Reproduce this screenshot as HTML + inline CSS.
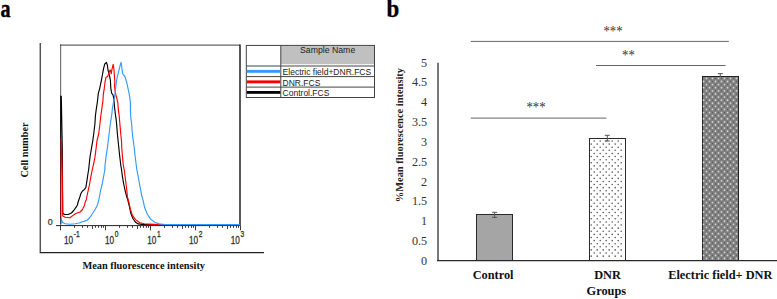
<!DOCTYPE html>
<html><head><meta charset="utf-8"><style>
html,body{margin:0;padding:0;background:#fff;width:777px;height:299px;overflow:hidden}
svg{display:block}
</style></head><body>
<svg width="777" height="299" viewBox="0 0 777 299">

<!-- panel a -->
<text transform="translate(0.4,16.6) scale(0.91,1.11)" font-family="'Liberation Serif', serif" font-weight="bold" font-size="22" fill="#000" stroke="#000" stroke-width="0.4">a</text>
<path d="M40.3,43 V251.9" fill="none" stroke="#555" stroke-width="1.5"/>
<path d="M39.6,252.6 H264" fill="none" stroke="#222" stroke-width="1.3"/>
<path d="M60.1,45.1 H240" fill="none" stroke="#666" stroke-width="1.3"/>
<path d="M240,44.6 V225.6" fill="none" stroke="#111" stroke-width="1.4"/>
<path d="M56,225.6 H240.5" fill="none" stroke="#222" stroke-width="1"/>
<g stroke="#3a3a3a" stroke-width="1"><line x1="60.50" y1="225.6" x2="60.50" y2="230.30"/><line x1="74.50" y1="225.6" x2="74.50" y2="227.80"/><line x1="82.50" y1="225.6" x2="82.50" y2="227.80"/><line x1="87.50" y1="225.6" x2="87.50" y2="227.80"/><line x1="92.50" y1="225.6" x2="92.50" y2="228.90"/><line x1="95.50" y1="225.6" x2="95.50" y2="227.80"/><line x1="98.50" y1="225.6" x2="98.50" y2="227.80"/><line x1="101.50" y1="225.6" x2="101.50" y2="227.80"/><line x1="103.50" y1="225.6" x2="103.50" y2="227.80"/><line x1="105.50" y1="225.6" x2="105.50" y2="230.30"/><line x1="119.50" y1="225.6" x2="119.50" y2="227.80"/><line x1="127.50" y1="225.6" x2="127.50" y2="227.80"/><line x1="132.50" y1="225.6" x2="132.50" y2="227.80"/><line x1="137.50" y1="225.6" x2="137.50" y2="228.90"/><line x1="140.50" y1="225.6" x2="140.50" y2="227.80"/><line x1="143.50" y1="225.6" x2="143.50" y2="227.80"/><line x1="146.50" y1="225.6" x2="146.50" y2="227.80"/><line x1="148.50" y1="225.6" x2="148.50" y2="227.80"/><line x1="150.50" y1="225.6" x2="150.50" y2="230.30"/><line x1="164.50" y1="225.6" x2="164.50" y2="227.80"/><line x1="172.50" y1="225.6" x2="172.50" y2="227.80"/><line x1="177.50" y1="225.6" x2="177.50" y2="227.80"/><line x1="182.50" y1="225.6" x2="182.50" y2="228.90"/><line x1="185.50" y1="225.6" x2="185.50" y2="227.80"/><line x1="188.50" y1="225.6" x2="188.50" y2="227.80"/><line x1="191.50" y1="225.6" x2="191.50" y2="227.80"/><line x1="193.50" y1="225.6" x2="193.50" y2="227.80"/><line x1="195.50" y1="225.6" x2="195.50" y2="230.30"/><line x1="209.50" y1="225.6" x2="209.50" y2="227.80"/><line x1="217.50" y1="225.6" x2="217.50" y2="227.80"/><line x1="222.50" y1="225.6" x2="222.50" y2="227.80"/><line x1="227.50" y1="225.6" x2="227.50" y2="228.90"/><line x1="230.50" y1="225.6" x2="230.50" y2="227.80"/><line x1="233.50" y1="225.6" x2="233.50" y2="227.80"/><line x1="236.50" y1="225.6" x2="236.50" y2="227.80"/><line x1="238.50" y1="225.6" x2="238.50" y2="227.80"/><line x1="240.50" y1="225.6" x2="240.50" y2="230.30"/></g>
<g font-family="'Liberation Sans', sans-serif" font-size="8.9" fill="#333" stroke="#333" stroke-width="0.25"><text transform="translate(64,243.8) scale(0.92,1.24)">10<tspan dx="0.75" dy="-5.3" font-size="7.2">-1</tspan></text><text transform="translate(105,243.8) scale(0.92,1.24)">10<tspan dx="0.75" dy="-5.3" font-size="7.2">0</tspan></text><text transform="translate(147.2,243.8) scale(0.92,1.24)">10<tspan dx="0.75" dy="-5.3" font-size="7.2">1</tspan></text><text transform="translate(189,243.8) scale(0.92,1.24)">10<tspan dx="0.75" dy="-5.3" font-size="7.2">2</tspan></text><text transform="translate(230.8,243.8) scale(0.92,1.24)">10<tspan dx="0.75" dy="-5.3" font-size="7.2">3</tspan></text>
<text x="47.8" y="225.3">0</text></g>
<text transform="translate(28.3,177.6) rotate(-90) scale(1,1.1)" font-family="'Liberation Serif', serif" font-weight="bold" font-size="10.3" fill="#111">Cell number</text>
<text transform="translate(82.4,269.4) scale(1,1.1)" font-family="'Liberation Serif', serif" font-weight="bold" font-size="10.35" fill="#111">Mean fluorescence intensity</text>
<g fill="none" stroke-width="1.15" stroke-linejoin="round">
<polyline points="60.60,224.00 60.60,96.00 61.30,96.50 62.30,150.00 62.70,213.00 64.40,214.50 68.10,214.50 71.40,213.00 73.70,210.50 76.10,207.20 77.40,205.00 78.10,202.00 80.00,196.50 80.90,193.50 82.30,191.20 84.50,189.40 85.90,187.20 86.80,181.70 87.70,175.40 88.60,170.00 90.00,157.00 91.70,147.00 92.80,140.70 93.70,134.00 94.90,124.00 95.40,116.00 96.25,109.30 97.50,101.00 98.30,93.40 99.60,88.80 100.80,83.00 101.20,81.30 102.40,74.80 103.60,68.40 104.80,64.00 106.40,62.40 107.40,65.20 108.00,70.00 108.80,73.20 109.60,76.40 110.40,80.50 110.80,88.00 111.70,93.40 112.90,94.70 113.75,98.00 114.60,107.70 115.40,114.30 116.25,120.20 116.60,124.00 117.40,134.00 118.25,142.30 118.75,147.00 119.60,155.30 120.80,165.30 121.60,170.00 122.50,177.20 123.80,184.50 125.20,190.80 126.50,196.00 127.60,199.30 129.20,205.70 130.80,213.20 132.90,218.50 135.60,222.30 138.30,223.90 142.00,224.40 150.00,224.60 240.00,224.60" stroke="#000"/>
<polyline points="60.60,224.00 60.60,139.00 61.30,139.50 62.30,175.00 62.70,216.00 65.30,217.30 70.00,217.80 72.40,215.90 75.40,213.70 78.00,212.70 80.00,212.00 82.10,210.00 82.80,208.70 84.30,205.70 85.50,201.40 86.40,199.50 86.80,197.00 88.10,190.80 89.50,184.50 90.80,177.20 92.20,170.00 93.30,165.30 95.00,157.00 96.25,147.00 97.00,140.70 98.70,134.00 99.90,124.00 100.80,116.00 101.70,109.30 102.90,101.00 103.30,94.70 104.20,88.80 105.00,82.20 105.20,81.30 106.00,77.20 107.60,76.40 108.80,73.60 109.60,70.80 110.40,70.00 111.20,74.00 112.00,69.20 113.20,64.40 114.00,70.00 114.40,75.60 114.80,81.30 114.60,86.30 115.00,90.50 115.80,94.70 117.10,99.70 117.90,103.00 118.30,109.30 119.20,116.00 119.90,124.00 120.75,134.00 121.60,142.30 121.70,147.00 122.50,157.00 123.30,165.30 124.30,170.00 125.20,177.20 126.10,184.50 127.00,191.70 127.40,197.00 128.70,201.40 130.30,208.90 132.40,215.30 135.60,219.60 139.90,222.80 144.20,223.70 149.50,224.10 154.90,224.40 160.00,224.60 240.00,224.60" stroke="#ff0000"/>
<polyline points="60.60,224.00 60.60,218.20 61.00,219.00 62.50,222.40 65.30,223.80 70.00,224.30 75.40,223.70 80.00,222.70 82.10,221.80 84.10,221.40 87.40,220.00 89.40,218.00 91.40,215.30 93.40,212.00 94.80,210.00 97.10,205.70 98.70,200.30 99.80,195.00 100.30,191.70 102.10,184.50 103.50,177.20 104.80,170.00 105.00,165.30 106.25,155.30 107.50,147.00 108.25,140.70 109.10,134.00 110.30,124.00 111.70,115.20 112.50,107.70 113.75,101.00 114.60,97.20 115.40,90.50 116.25,83.00 116.40,81.30 117.60,75.60 118.80,70.80 120.00,66.00 121.00,62.40 121.70,66.00 122.00,70.00 122.90,74.00 123.70,75.20 124.50,76.00 125.30,77.60 126.10,80.50 126.70,82.20 127.90,88.00 129.20,93.80 130.00,98.80 130.40,103.00 130.40,109.30 130.80,117.70 131.60,124.00 132.40,134.00 133.50,142.30 134.20,147.00 135.00,155.30 136.25,165.30 136.90,170.00 138.30,177.20 139.60,184.50 141.00,191.70 141.50,195.00 143.10,200.30 144.70,207.80 147.40,214.30 150.60,219.10 154.90,222.30 159.10,223.90 165.00,224.50 240.00,224.60" stroke="#3399ff"/>
</g>
<path d="M60.6,225.6 V44.6" fill="none" stroke="#222" stroke-opacity="0.62" stroke-width="1.2"/>
<!-- legend -->
<rect x="280.8" y="45.6" width="93.7" height="18.6" fill="#c0c0c0"/>
<g fill="none" stroke="#444" stroke-width="1">
<rect x="246.3" y="45.4" width="128.2" height="52.1"/>
<line x1="280.8" y1="45.4" x2="280.8" y2="97.5"/>
<line x1="246.3" y1="66" x2="374.5" y2="66"/>
<line x1="246.3" y1="76.6" x2="374.5" y2="76.6"/>
<line x1="246.3" y1="87.1" x2="374.5" y2="87.1"/>
</g>
<rect x="246.8" y="69.9" width="33.5" height="2.9" fill="#3399ff"/>
<rect x="246.8" y="80.4" width="33.5" height="2.9" fill="#ff0000"/>
<rect x="246.8" y="91" width="33.5" height="2.8" fill="#000"/>
<g font-family="'Liberation Sans', sans-serif" font-size="8.6" fill="#222">
<text transform="translate(327.6,52.9) scale(1.015,1.09)" text-anchor="middle">Sample Name</text>
<text transform="translate(282.6,74.5) scale(0.99,1.09)">Electric field+DNR.FCS</text>
<text transform="translate(282.6,85.7) scale(0.99,1.09)">DNR.FCS</text>
<text transform="translate(282.6,96.2) scale(0.99,1.09)">Control.FCS</text>
</g>
<!-- panel b -->
<text transform="translate(386.5,17) scale(1.04,1.115)" font-family="'Liberation Serif', serif" font-weight="bold" font-size="22" fill="#000" stroke="#000" stroke-width="0.3">b</text>
<g stroke="#666" stroke-width="1" fill="none">
<line x1="470.8" y1="41.4" x2="728.8" y2="41.4"/>
<line x1="596" y1="65.5" x2="725.5" y2="65.5"/>
<line x1="470.7" y1="118.1" x2="606.3" y2="118.1"/>
</g>
<g font-family="'Liberation Serif', serif" font-size="12.8" fill="#333" text-anchor="middle">
<text transform="translate(613,36.05) scale(1,1.1)">***</text>
<text transform="translate(628.4,59.65) scale(1,1.1)">**</text>
<text transform="translate(536,111.75) scale(1,1.1)">***</text>
</g>
<line x1="438" y1="62.8" x2="438" y2="260.4" stroke="#787878" stroke-width="2"/>
<g font-family="'Liberation Serif', serif" font-size="12.2" fill="#333"><text transform="translate(427.2,264.75) scale(1,1.06)" text-anchor="end">0</text><text transform="translate(427.2,244.94) scale(1,1.06)" text-anchor="end">0.5</text><text transform="translate(427.2,225.13) scale(1,1.06)" text-anchor="end">1</text><text transform="translate(427.2,205.32) scale(1,1.06)" text-anchor="end">1.5</text><text transform="translate(427.2,185.51) scale(1,1.06)" text-anchor="end">2</text><text transform="translate(427.2,165.70) scale(1,1.06)" text-anchor="end">2.5</text><text transform="translate(427.2,145.89) scale(1,1.06)" text-anchor="end">3</text><text transform="translate(427.2,126.08) scale(1,1.06)" text-anchor="end">3.5</text><text transform="translate(427.2,106.27) scale(1,1.06)" text-anchor="end">4</text><text transform="translate(427.2,86.46) scale(1,1.06)" text-anchor="end">4.5</text><text transform="translate(427.2,66.65) scale(1,1.06)" text-anchor="end">5</text></g>
<text transform="translate(403.2,202.3) rotate(-90) scale(1,1.02)" font-family="'Liberation Serif', serif" font-weight="bold" font-size="10.45" fill="#222">%Mean fluorescence intensity</text>
<rect x="476.5" y="214.5" width="36" height="46" fill="#a5a5a5" stroke="#2a2a2a" stroke-width="1"/>
<rect x="589.5" y="138.5" width="36" height="122" fill="#fff" stroke="#2a2a2a" stroke-width="1"/>
<rect x="702.5" y="76.5" width="36" height="184" fill="#808080" stroke="#222" stroke-width="1"/>
<g fill="#5a5a5a"><circle cx="594.20" cy="141.00" r="0.8"/><circle cx="600.20" cy="141.00" r="0.8"/><circle cx="606.20" cy="141.00" r="0.8"/><circle cx="612.20" cy="141.00" r="0.8"/><circle cx="618.20" cy="141.00" r="0.8"/><circle cx="591.20" cy="144.10" r="0.8"/><circle cx="597.20" cy="144.10" r="0.8"/><circle cx="603.20" cy="144.10" r="0.8"/><circle cx="609.20" cy="144.10" r="0.8"/><circle cx="615.20" cy="144.10" r="0.8"/><circle cx="621.20" cy="144.10" r="0.8"/><circle cx="594.20" cy="147.22" r="0.8"/><circle cx="600.20" cy="147.22" r="0.8"/><circle cx="606.20" cy="147.22" r="0.8"/><circle cx="612.20" cy="147.22" r="0.8"/><circle cx="618.20" cy="147.22" r="0.8"/><circle cx="591.20" cy="150.32" r="0.8"/><circle cx="597.20" cy="150.32" r="0.8"/><circle cx="603.20" cy="150.32" r="0.8"/><circle cx="609.20" cy="150.32" r="0.8"/><circle cx="615.20" cy="150.32" r="0.8"/><circle cx="621.20" cy="150.32" r="0.8"/><circle cx="594.20" cy="153.45" r="0.8"/><circle cx="600.20" cy="153.45" r="0.8"/><circle cx="606.20" cy="153.45" r="0.8"/><circle cx="612.20" cy="153.45" r="0.8"/><circle cx="618.20" cy="153.45" r="0.8"/><circle cx="591.20" cy="156.55" r="0.8"/><circle cx="597.20" cy="156.55" r="0.8"/><circle cx="603.20" cy="156.55" r="0.8"/><circle cx="609.20" cy="156.55" r="0.8"/><circle cx="615.20" cy="156.55" r="0.8"/><circle cx="621.20" cy="156.55" r="0.8"/><circle cx="594.20" cy="159.68" r="0.8"/><circle cx="600.20" cy="159.68" r="0.8"/><circle cx="606.20" cy="159.68" r="0.8"/><circle cx="612.20" cy="159.68" r="0.8"/><circle cx="618.20" cy="159.68" r="0.8"/><circle cx="591.20" cy="162.77" r="0.8"/><circle cx="597.20" cy="162.77" r="0.8"/><circle cx="603.20" cy="162.77" r="0.8"/><circle cx="609.20" cy="162.77" r="0.8"/><circle cx="615.20" cy="162.77" r="0.8"/><circle cx="621.20" cy="162.77" r="0.8"/><circle cx="594.20" cy="165.90" r="0.8"/><circle cx="600.20" cy="165.90" r="0.8"/><circle cx="606.20" cy="165.90" r="0.8"/><circle cx="612.20" cy="165.90" r="0.8"/><circle cx="618.20" cy="165.90" r="0.8"/><circle cx="591.20" cy="169.00" r="0.8"/><circle cx="597.20" cy="169.00" r="0.8"/><circle cx="603.20" cy="169.00" r="0.8"/><circle cx="609.20" cy="169.00" r="0.8"/><circle cx="615.20" cy="169.00" r="0.8"/><circle cx="621.20" cy="169.00" r="0.8"/><circle cx="594.20" cy="172.12" r="0.8"/><circle cx="600.20" cy="172.12" r="0.8"/><circle cx="606.20" cy="172.12" r="0.8"/><circle cx="612.20" cy="172.12" r="0.8"/><circle cx="618.20" cy="172.12" r="0.8"/><circle cx="591.20" cy="175.22" r="0.8"/><circle cx="597.20" cy="175.22" r="0.8"/><circle cx="603.20" cy="175.22" r="0.8"/><circle cx="609.20" cy="175.22" r="0.8"/><circle cx="615.20" cy="175.22" r="0.8"/><circle cx="621.20" cy="175.22" r="0.8"/><circle cx="594.20" cy="178.35" r="0.8"/><circle cx="600.20" cy="178.35" r="0.8"/><circle cx="606.20" cy="178.35" r="0.8"/><circle cx="612.20" cy="178.35" r="0.8"/><circle cx="618.20" cy="178.35" r="0.8"/><circle cx="591.20" cy="181.45" r="0.8"/><circle cx="597.20" cy="181.45" r="0.8"/><circle cx="603.20" cy="181.45" r="0.8"/><circle cx="609.20" cy="181.45" r="0.8"/><circle cx="615.20" cy="181.45" r="0.8"/><circle cx="621.20" cy="181.45" r="0.8"/><circle cx="594.20" cy="184.57" r="0.8"/><circle cx="600.20" cy="184.57" r="0.8"/><circle cx="606.20" cy="184.57" r="0.8"/><circle cx="612.20" cy="184.57" r="0.8"/><circle cx="618.20" cy="184.57" r="0.8"/><circle cx="591.20" cy="187.67" r="0.8"/><circle cx="597.20" cy="187.67" r="0.8"/><circle cx="603.20" cy="187.67" r="0.8"/><circle cx="609.20" cy="187.67" r="0.8"/><circle cx="615.20" cy="187.67" r="0.8"/><circle cx="621.20" cy="187.67" r="0.8"/><circle cx="594.20" cy="190.80" r="0.8"/><circle cx="600.20" cy="190.80" r="0.8"/><circle cx="606.20" cy="190.80" r="0.8"/><circle cx="612.20" cy="190.80" r="0.8"/><circle cx="618.20" cy="190.80" r="0.8"/><circle cx="591.20" cy="193.90" r="0.8"/><circle cx="597.20" cy="193.90" r="0.8"/><circle cx="603.20" cy="193.90" r="0.8"/><circle cx="609.20" cy="193.90" r="0.8"/><circle cx="615.20" cy="193.90" r="0.8"/><circle cx="621.20" cy="193.90" r="0.8"/><circle cx="594.20" cy="197.03" r="0.8"/><circle cx="600.20" cy="197.03" r="0.8"/><circle cx="606.20" cy="197.03" r="0.8"/><circle cx="612.20" cy="197.03" r="0.8"/><circle cx="618.20" cy="197.03" r="0.8"/><circle cx="591.20" cy="200.12" r="0.8"/><circle cx="597.20" cy="200.12" r="0.8"/><circle cx="603.20" cy="200.12" r="0.8"/><circle cx="609.20" cy="200.12" r="0.8"/><circle cx="615.20" cy="200.12" r="0.8"/><circle cx="621.20" cy="200.12" r="0.8"/><circle cx="594.20" cy="203.25" r="0.8"/><circle cx="600.20" cy="203.25" r="0.8"/><circle cx="606.20" cy="203.25" r="0.8"/><circle cx="612.20" cy="203.25" r="0.8"/><circle cx="618.20" cy="203.25" r="0.8"/><circle cx="591.20" cy="206.35" r="0.8"/><circle cx="597.20" cy="206.35" r="0.8"/><circle cx="603.20" cy="206.35" r="0.8"/><circle cx="609.20" cy="206.35" r="0.8"/><circle cx="615.20" cy="206.35" r="0.8"/><circle cx="621.20" cy="206.35" r="0.8"/><circle cx="594.20" cy="209.47" r="0.8"/><circle cx="600.20" cy="209.47" r="0.8"/><circle cx="606.20" cy="209.47" r="0.8"/><circle cx="612.20" cy="209.47" r="0.8"/><circle cx="618.20" cy="209.47" r="0.8"/><circle cx="591.20" cy="212.57" r="0.8"/><circle cx="597.20" cy="212.57" r="0.8"/><circle cx="603.20" cy="212.57" r="0.8"/><circle cx="609.20" cy="212.57" r="0.8"/><circle cx="615.20" cy="212.57" r="0.8"/><circle cx="621.20" cy="212.57" r="0.8"/><circle cx="594.20" cy="215.70" r="0.8"/><circle cx="600.20" cy="215.70" r="0.8"/><circle cx="606.20" cy="215.70" r="0.8"/><circle cx="612.20" cy="215.70" r="0.8"/><circle cx="618.20" cy="215.70" r="0.8"/><circle cx="591.20" cy="218.80" r="0.8"/><circle cx="597.20" cy="218.80" r="0.8"/><circle cx="603.20" cy="218.80" r="0.8"/><circle cx="609.20" cy="218.80" r="0.8"/><circle cx="615.20" cy="218.80" r="0.8"/><circle cx="621.20" cy="218.80" r="0.8"/><circle cx="594.20" cy="221.93" r="0.8"/><circle cx="600.20" cy="221.93" r="0.8"/><circle cx="606.20" cy="221.93" r="0.8"/><circle cx="612.20" cy="221.93" r="0.8"/><circle cx="618.20" cy="221.93" r="0.8"/><circle cx="591.20" cy="225.02" r="0.8"/><circle cx="597.20" cy="225.02" r="0.8"/><circle cx="603.20" cy="225.02" r="0.8"/><circle cx="609.20" cy="225.02" r="0.8"/><circle cx="615.20" cy="225.02" r="0.8"/><circle cx="621.20" cy="225.02" r="0.8"/><circle cx="594.20" cy="228.15" r="0.8"/><circle cx="600.20" cy="228.15" r="0.8"/><circle cx="606.20" cy="228.15" r="0.8"/><circle cx="612.20" cy="228.15" r="0.8"/><circle cx="618.20" cy="228.15" r="0.8"/><circle cx="591.20" cy="231.25" r="0.8"/><circle cx="597.20" cy="231.25" r="0.8"/><circle cx="603.20" cy="231.25" r="0.8"/><circle cx="609.20" cy="231.25" r="0.8"/><circle cx="615.20" cy="231.25" r="0.8"/><circle cx="621.20" cy="231.25" r="0.8"/><circle cx="594.20" cy="234.38" r="0.8"/><circle cx="600.20" cy="234.38" r="0.8"/><circle cx="606.20" cy="234.38" r="0.8"/><circle cx="612.20" cy="234.38" r="0.8"/><circle cx="618.20" cy="234.38" r="0.8"/><circle cx="591.20" cy="237.47" r="0.8"/><circle cx="597.20" cy="237.47" r="0.8"/><circle cx="603.20" cy="237.47" r="0.8"/><circle cx="609.20" cy="237.47" r="0.8"/><circle cx="615.20" cy="237.47" r="0.8"/><circle cx="621.20" cy="237.47" r="0.8"/><circle cx="594.20" cy="240.60" r="0.8"/><circle cx="600.20" cy="240.60" r="0.8"/><circle cx="606.20" cy="240.60" r="0.8"/><circle cx="612.20" cy="240.60" r="0.8"/><circle cx="618.20" cy="240.60" r="0.8"/><circle cx="591.20" cy="243.70" r="0.8"/><circle cx="597.20" cy="243.70" r="0.8"/><circle cx="603.20" cy="243.70" r="0.8"/><circle cx="609.20" cy="243.70" r="0.8"/><circle cx="615.20" cy="243.70" r="0.8"/><circle cx="621.20" cy="243.70" r="0.8"/><circle cx="594.20" cy="246.82" r="0.8"/><circle cx="600.20" cy="246.82" r="0.8"/><circle cx="606.20" cy="246.82" r="0.8"/><circle cx="612.20" cy="246.82" r="0.8"/><circle cx="618.20" cy="246.82" r="0.8"/><circle cx="591.20" cy="249.92" r="0.8"/><circle cx="597.20" cy="249.92" r="0.8"/><circle cx="603.20" cy="249.92" r="0.8"/><circle cx="609.20" cy="249.92" r="0.8"/><circle cx="615.20" cy="249.92" r="0.8"/><circle cx="621.20" cy="249.92" r="0.8"/><circle cx="594.20" cy="253.05" r="0.8"/><circle cx="600.20" cy="253.05" r="0.8"/><circle cx="606.20" cy="253.05" r="0.8"/><circle cx="612.20" cy="253.05" r="0.8"/><circle cx="618.20" cy="253.05" r="0.8"/><circle cx="591.20" cy="256.15" r="0.8"/><circle cx="597.20" cy="256.15" r="0.8"/><circle cx="603.20" cy="256.15" r="0.8"/><circle cx="609.20" cy="256.15" r="0.8"/><circle cx="615.20" cy="256.15" r="0.8"/><circle cx="621.20" cy="256.15" r="0.8"/></g>
<g fill="#d4d4d4"><circle cx="703.50" cy="81.51" r="0.9"/><circle cx="706.50" cy="78.41" r="0.9"/><circle cx="709.50" cy="81.51" r="0.9"/><circle cx="712.50" cy="78.41" r="0.9"/><circle cx="715.50" cy="81.51" r="0.9"/><circle cx="718.50" cy="78.41" r="0.9"/><circle cx="721.50" cy="81.51" r="0.9"/><circle cx="724.50" cy="78.41" r="0.9"/><circle cx="727.50" cy="81.51" r="0.9"/><circle cx="730.50" cy="78.41" r="0.9"/><circle cx="733.50" cy="81.51" r="0.9"/><circle cx="736.50" cy="78.41" r="0.9"/><circle cx="703.50" cy="87.72" r="0.9"/><circle cx="706.50" cy="84.62" r="0.9"/><circle cx="709.50" cy="87.72" r="0.9"/><circle cx="712.50" cy="84.62" r="0.9"/><circle cx="715.50" cy="87.72" r="0.9"/><circle cx="718.50" cy="84.62" r="0.9"/><circle cx="721.50" cy="87.72" r="0.9"/><circle cx="724.50" cy="84.62" r="0.9"/><circle cx="727.50" cy="87.72" r="0.9"/><circle cx="730.50" cy="84.62" r="0.9"/><circle cx="733.50" cy="87.72" r="0.9"/><circle cx="736.50" cy="84.62" r="0.9"/><circle cx="703.50" cy="93.93" r="0.9"/><circle cx="706.50" cy="90.83" r="0.9"/><circle cx="709.50" cy="93.93" r="0.9"/><circle cx="712.50" cy="90.83" r="0.9"/><circle cx="715.50" cy="93.93" r="0.9"/><circle cx="718.50" cy="90.83" r="0.9"/><circle cx="721.50" cy="93.93" r="0.9"/><circle cx="724.50" cy="90.83" r="0.9"/><circle cx="727.50" cy="93.93" r="0.9"/><circle cx="730.50" cy="90.83" r="0.9"/><circle cx="733.50" cy="93.93" r="0.9"/><circle cx="736.50" cy="90.83" r="0.9"/><circle cx="703.50" cy="100.14" r="0.9"/><circle cx="706.50" cy="97.04" r="0.9"/><circle cx="709.50" cy="100.14" r="0.9"/><circle cx="712.50" cy="97.04" r="0.9"/><circle cx="715.50" cy="100.14" r="0.9"/><circle cx="718.50" cy="97.04" r="0.9"/><circle cx="721.50" cy="100.14" r="0.9"/><circle cx="724.50" cy="97.04" r="0.9"/><circle cx="727.50" cy="100.14" r="0.9"/><circle cx="730.50" cy="97.04" r="0.9"/><circle cx="733.50" cy="100.14" r="0.9"/><circle cx="736.50" cy="97.04" r="0.9"/><circle cx="703.50" cy="106.35" r="0.9"/><circle cx="706.50" cy="103.25" r="0.9"/><circle cx="709.50" cy="106.35" r="0.9"/><circle cx="712.50" cy="103.25" r="0.9"/><circle cx="715.50" cy="106.35" r="0.9"/><circle cx="718.50" cy="103.25" r="0.9"/><circle cx="721.50" cy="106.35" r="0.9"/><circle cx="724.50" cy="103.25" r="0.9"/><circle cx="727.50" cy="106.35" r="0.9"/><circle cx="730.50" cy="103.25" r="0.9"/><circle cx="733.50" cy="106.35" r="0.9"/><circle cx="736.50" cy="103.25" r="0.9"/><circle cx="703.50" cy="112.56" r="0.9"/><circle cx="706.50" cy="109.46" r="0.9"/><circle cx="709.50" cy="112.56" r="0.9"/><circle cx="712.50" cy="109.46" r="0.9"/><circle cx="715.50" cy="112.56" r="0.9"/><circle cx="718.50" cy="109.46" r="0.9"/><circle cx="721.50" cy="112.56" r="0.9"/><circle cx="724.50" cy="109.46" r="0.9"/><circle cx="727.50" cy="112.56" r="0.9"/><circle cx="730.50" cy="109.46" r="0.9"/><circle cx="733.50" cy="112.56" r="0.9"/><circle cx="736.50" cy="109.46" r="0.9"/><circle cx="703.50" cy="118.77" r="0.9"/><circle cx="706.50" cy="115.67" r="0.9"/><circle cx="709.50" cy="118.77" r="0.9"/><circle cx="712.50" cy="115.67" r="0.9"/><circle cx="715.50" cy="118.77" r="0.9"/><circle cx="718.50" cy="115.67" r="0.9"/><circle cx="721.50" cy="118.77" r="0.9"/><circle cx="724.50" cy="115.67" r="0.9"/><circle cx="727.50" cy="118.77" r="0.9"/><circle cx="730.50" cy="115.67" r="0.9"/><circle cx="733.50" cy="118.77" r="0.9"/><circle cx="736.50" cy="115.67" r="0.9"/><circle cx="703.50" cy="124.98" r="0.9"/><circle cx="706.50" cy="121.88" r="0.9"/><circle cx="709.50" cy="124.98" r="0.9"/><circle cx="712.50" cy="121.88" r="0.9"/><circle cx="715.50" cy="124.98" r="0.9"/><circle cx="718.50" cy="121.88" r="0.9"/><circle cx="721.50" cy="124.98" r="0.9"/><circle cx="724.50" cy="121.88" r="0.9"/><circle cx="727.50" cy="124.98" r="0.9"/><circle cx="730.50" cy="121.88" r="0.9"/><circle cx="733.50" cy="124.98" r="0.9"/><circle cx="736.50" cy="121.88" r="0.9"/><circle cx="703.50" cy="131.19" r="0.9"/><circle cx="706.50" cy="128.09" r="0.9"/><circle cx="709.50" cy="131.19" r="0.9"/><circle cx="712.50" cy="128.09" r="0.9"/><circle cx="715.50" cy="131.19" r="0.9"/><circle cx="718.50" cy="128.09" r="0.9"/><circle cx="721.50" cy="131.19" r="0.9"/><circle cx="724.50" cy="128.09" r="0.9"/><circle cx="727.50" cy="131.19" r="0.9"/><circle cx="730.50" cy="128.09" r="0.9"/><circle cx="733.50" cy="131.19" r="0.9"/><circle cx="736.50" cy="128.09" r="0.9"/><circle cx="703.50" cy="137.40" r="0.9"/><circle cx="706.50" cy="134.30" r="0.9"/><circle cx="709.50" cy="137.40" r="0.9"/><circle cx="712.50" cy="134.30" r="0.9"/><circle cx="715.50" cy="137.40" r="0.9"/><circle cx="718.50" cy="134.30" r="0.9"/><circle cx="721.50" cy="137.40" r="0.9"/><circle cx="724.50" cy="134.30" r="0.9"/><circle cx="727.50" cy="137.40" r="0.9"/><circle cx="730.50" cy="134.30" r="0.9"/><circle cx="733.50" cy="137.40" r="0.9"/><circle cx="736.50" cy="134.30" r="0.9"/><circle cx="703.50" cy="143.61" r="0.9"/><circle cx="706.50" cy="140.51" r="0.9"/><circle cx="709.50" cy="143.61" r="0.9"/><circle cx="712.50" cy="140.51" r="0.9"/><circle cx="715.50" cy="143.61" r="0.9"/><circle cx="718.50" cy="140.51" r="0.9"/><circle cx="721.50" cy="143.61" r="0.9"/><circle cx="724.50" cy="140.51" r="0.9"/><circle cx="727.50" cy="143.61" r="0.9"/><circle cx="730.50" cy="140.51" r="0.9"/><circle cx="733.50" cy="143.61" r="0.9"/><circle cx="736.50" cy="140.51" r="0.9"/><circle cx="703.50" cy="149.82" r="0.9"/><circle cx="706.50" cy="146.72" r="0.9"/><circle cx="709.50" cy="149.82" r="0.9"/><circle cx="712.50" cy="146.72" r="0.9"/><circle cx="715.50" cy="149.82" r="0.9"/><circle cx="718.50" cy="146.72" r="0.9"/><circle cx="721.50" cy="149.82" r="0.9"/><circle cx="724.50" cy="146.72" r="0.9"/><circle cx="727.50" cy="149.82" r="0.9"/><circle cx="730.50" cy="146.72" r="0.9"/><circle cx="733.50" cy="149.82" r="0.9"/><circle cx="736.50" cy="146.72" r="0.9"/><circle cx="703.50" cy="156.03" r="0.9"/><circle cx="706.50" cy="152.93" r="0.9"/><circle cx="709.50" cy="156.03" r="0.9"/><circle cx="712.50" cy="152.93" r="0.9"/><circle cx="715.50" cy="156.03" r="0.9"/><circle cx="718.50" cy="152.93" r="0.9"/><circle cx="721.50" cy="156.03" r="0.9"/><circle cx="724.50" cy="152.93" r="0.9"/><circle cx="727.50" cy="156.03" r="0.9"/><circle cx="730.50" cy="152.93" r="0.9"/><circle cx="733.50" cy="156.03" r="0.9"/><circle cx="736.50" cy="152.93" r="0.9"/><circle cx="703.50" cy="162.24" r="0.9"/><circle cx="706.50" cy="159.14" r="0.9"/><circle cx="709.50" cy="162.24" r="0.9"/><circle cx="712.50" cy="159.14" r="0.9"/><circle cx="715.50" cy="162.24" r="0.9"/><circle cx="718.50" cy="159.14" r="0.9"/><circle cx="721.50" cy="162.24" r="0.9"/><circle cx="724.50" cy="159.14" r="0.9"/><circle cx="727.50" cy="162.24" r="0.9"/><circle cx="730.50" cy="159.14" r="0.9"/><circle cx="733.50" cy="162.24" r="0.9"/><circle cx="736.50" cy="159.14" r="0.9"/><circle cx="703.50" cy="168.45" r="0.9"/><circle cx="706.50" cy="165.35" r="0.9"/><circle cx="709.50" cy="168.45" r="0.9"/><circle cx="712.50" cy="165.35" r="0.9"/><circle cx="715.50" cy="168.45" r="0.9"/><circle cx="718.50" cy="165.35" r="0.9"/><circle cx="721.50" cy="168.45" r="0.9"/><circle cx="724.50" cy="165.35" r="0.9"/><circle cx="727.50" cy="168.45" r="0.9"/><circle cx="730.50" cy="165.35" r="0.9"/><circle cx="733.50" cy="168.45" r="0.9"/><circle cx="736.50" cy="165.35" r="0.9"/><circle cx="703.50" cy="174.66" r="0.9"/><circle cx="706.50" cy="171.56" r="0.9"/><circle cx="709.50" cy="174.66" r="0.9"/><circle cx="712.50" cy="171.56" r="0.9"/><circle cx="715.50" cy="174.66" r="0.9"/><circle cx="718.50" cy="171.56" r="0.9"/><circle cx="721.50" cy="174.66" r="0.9"/><circle cx="724.50" cy="171.56" r="0.9"/><circle cx="727.50" cy="174.66" r="0.9"/><circle cx="730.50" cy="171.56" r="0.9"/><circle cx="733.50" cy="174.66" r="0.9"/><circle cx="736.50" cy="171.56" r="0.9"/><circle cx="703.50" cy="180.87" r="0.9"/><circle cx="706.50" cy="177.77" r="0.9"/><circle cx="709.50" cy="180.87" r="0.9"/><circle cx="712.50" cy="177.77" r="0.9"/><circle cx="715.50" cy="180.87" r="0.9"/><circle cx="718.50" cy="177.77" r="0.9"/><circle cx="721.50" cy="180.87" r="0.9"/><circle cx="724.50" cy="177.77" r="0.9"/><circle cx="727.50" cy="180.87" r="0.9"/><circle cx="730.50" cy="177.77" r="0.9"/><circle cx="733.50" cy="180.87" r="0.9"/><circle cx="736.50" cy="177.77" r="0.9"/><circle cx="703.50" cy="187.08" r="0.9"/><circle cx="706.50" cy="183.98" r="0.9"/><circle cx="709.50" cy="187.08" r="0.9"/><circle cx="712.50" cy="183.98" r="0.9"/><circle cx="715.50" cy="187.08" r="0.9"/><circle cx="718.50" cy="183.98" r="0.9"/><circle cx="721.50" cy="187.08" r="0.9"/><circle cx="724.50" cy="183.98" r="0.9"/><circle cx="727.50" cy="187.08" r="0.9"/><circle cx="730.50" cy="183.98" r="0.9"/><circle cx="733.50" cy="187.08" r="0.9"/><circle cx="736.50" cy="183.98" r="0.9"/><circle cx="703.50" cy="193.29" r="0.9"/><circle cx="706.50" cy="190.19" r="0.9"/><circle cx="709.50" cy="193.29" r="0.9"/><circle cx="712.50" cy="190.19" r="0.9"/><circle cx="715.50" cy="193.29" r="0.9"/><circle cx="718.50" cy="190.19" r="0.9"/><circle cx="721.50" cy="193.29" r="0.9"/><circle cx="724.50" cy="190.19" r="0.9"/><circle cx="727.50" cy="193.29" r="0.9"/><circle cx="730.50" cy="190.19" r="0.9"/><circle cx="733.50" cy="193.29" r="0.9"/><circle cx="736.50" cy="190.19" r="0.9"/><circle cx="703.50" cy="199.50" r="0.9"/><circle cx="706.50" cy="196.40" r="0.9"/><circle cx="709.50" cy="199.50" r="0.9"/><circle cx="712.50" cy="196.40" r="0.9"/><circle cx="715.50" cy="199.50" r="0.9"/><circle cx="718.50" cy="196.40" r="0.9"/><circle cx="721.50" cy="199.50" r="0.9"/><circle cx="724.50" cy="196.40" r="0.9"/><circle cx="727.50" cy="199.50" r="0.9"/><circle cx="730.50" cy="196.40" r="0.9"/><circle cx="733.50" cy="199.50" r="0.9"/><circle cx="736.50" cy="196.40" r="0.9"/><circle cx="703.50" cy="205.71" r="0.9"/><circle cx="706.50" cy="202.61" r="0.9"/><circle cx="709.50" cy="205.71" r="0.9"/><circle cx="712.50" cy="202.61" r="0.9"/><circle cx="715.50" cy="205.71" r="0.9"/><circle cx="718.50" cy="202.61" r="0.9"/><circle cx="721.50" cy="205.71" r="0.9"/><circle cx="724.50" cy="202.61" r="0.9"/><circle cx="727.50" cy="205.71" r="0.9"/><circle cx="730.50" cy="202.61" r="0.9"/><circle cx="733.50" cy="205.71" r="0.9"/><circle cx="736.50" cy="202.61" r="0.9"/><circle cx="703.50" cy="211.92" r="0.9"/><circle cx="706.50" cy="208.82" r="0.9"/><circle cx="709.50" cy="211.92" r="0.9"/><circle cx="712.50" cy="208.82" r="0.9"/><circle cx="715.50" cy="211.92" r="0.9"/><circle cx="718.50" cy="208.82" r="0.9"/><circle cx="721.50" cy="211.92" r="0.9"/><circle cx="724.50" cy="208.82" r="0.9"/><circle cx="727.50" cy="211.92" r="0.9"/><circle cx="730.50" cy="208.82" r="0.9"/><circle cx="733.50" cy="211.92" r="0.9"/><circle cx="736.50" cy="208.82" r="0.9"/><circle cx="703.50" cy="218.13" r="0.9"/><circle cx="706.50" cy="215.03" r="0.9"/><circle cx="709.50" cy="218.13" r="0.9"/><circle cx="712.50" cy="215.03" r="0.9"/><circle cx="715.50" cy="218.13" r="0.9"/><circle cx="718.50" cy="215.03" r="0.9"/><circle cx="721.50" cy="218.13" r="0.9"/><circle cx="724.50" cy="215.03" r="0.9"/><circle cx="727.50" cy="218.13" r="0.9"/><circle cx="730.50" cy="215.03" r="0.9"/><circle cx="733.50" cy="218.13" r="0.9"/><circle cx="736.50" cy="215.03" r="0.9"/><circle cx="703.50" cy="224.34" r="0.9"/><circle cx="706.50" cy="221.24" r="0.9"/><circle cx="709.50" cy="224.34" r="0.9"/><circle cx="712.50" cy="221.24" r="0.9"/><circle cx="715.50" cy="224.34" r="0.9"/><circle cx="718.50" cy="221.24" r="0.9"/><circle cx="721.50" cy="224.34" r="0.9"/><circle cx="724.50" cy="221.24" r="0.9"/><circle cx="727.50" cy="224.34" r="0.9"/><circle cx="730.50" cy="221.24" r="0.9"/><circle cx="733.50" cy="224.34" r="0.9"/><circle cx="736.50" cy="221.24" r="0.9"/><circle cx="703.50" cy="230.55" r="0.9"/><circle cx="706.50" cy="227.45" r="0.9"/><circle cx="709.50" cy="230.55" r="0.9"/><circle cx="712.50" cy="227.45" r="0.9"/><circle cx="715.50" cy="230.55" r="0.9"/><circle cx="718.50" cy="227.45" r="0.9"/><circle cx="721.50" cy="230.55" r="0.9"/><circle cx="724.50" cy="227.45" r="0.9"/><circle cx="727.50" cy="230.55" r="0.9"/><circle cx="730.50" cy="227.45" r="0.9"/><circle cx="733.50" cy="230.55" r="0.9"/><circle cx="736.50" cy="227.45" r="0.9"/><circle cx="703.50" cy="236.76" r="0.9"/><circle cx="706.50" cy="233.66" r="0.9"/><circle cx="709.50" cy="236.76" r="0.9"/><circle cx="712.50" cy="233.66" r="0.9"/><circle cx="715.50" cy="236.76" r="0.9"/><circle cx="718.50" cy="233.66" r="0.9"/><circle cx="721.50" cy="236.76" r="0.9"/><circle cx="724.50" cy="233.66" r="0.9"/><circle cx="727.50" cy="236.76" r="0.9"/><circle cx="730.50" cy="233.66" r="0.9"/><circle cx="733.50" cy="236.76" r="0.9"/><circle cx="736.50" cy="233.66" r="0.9"/><circle cx="703.50" cy="242.97" r="0.9"/><circle cx="706.50" cy="239.87" r="0.9"/><circle cx="709.50" cy="242.97" r="0.9"/><circle cx="712.50" cy="239.87" r="0.9"/><circle cx="715.50" cy="242.97" r="0.9"/><circle cx="718.50" cy="239.87" r="0.9"/><circle cx="721.50" cy="242.97" r="0.9"/><circle cx="724.50" cy="239.87" r="0.9"/><circle cx="727.50" cy="242.97" r="0.9"/><circle cx="730.50" cy="239.87" r="0.9"/><circle cx="733.50" cy="242.97" r="0.9"/><circle cx="736.50" cy="239.87" r="0.9"/><circle cx="703.50" cy="249.18" r="0.9"/><circle cx="706.50" cy="246.08" r="0.9"/><circle cx="709.50" cy="249.18" r="0.9"/><circle cx="712.50" cy="246.08" r="0.9"/><circle cx="715.50" cy="249.18" r="0.9"/><circle cx="718.50" cy="246.08" r="0.9"/><circle cx="721.50" cy="249.18" r="0.9"/><circle cx="724.50" cy="246.08" r="0.9"/><circle cx="727.50" cy="249.18" r="0.9"/><circle cx="730.50" cy="246.08" r="0.9"/><circle cx="733.50" cy="249.18" r="0.9"/><circle cx="736.50" cy="246.08" r="0.9"/><circle cx="703.50" cy="255.39" r="0.9"/><circle cx="706.50" cy="252.29" r="0.9"/><circle cx="709.50" cy="255.39" r="0.9"/><circle cx="712.50" cy="252.29" r="0.9"/><circle cx="715.50" cy="255.39" r="0.9"/><circle cx="718.50" cy="252.29" r="0.9"/><circle cx="721.50" cy="255.39" r="0.9"/><circle cx="724.50" cy="252.29" r="0.9"/><circle cx="727.50" cy="255.39" r="0.9"/><circle cx="730.50" cy="252.29" r="0.9"/><circle cx="733.50" cy="255.39" r="0.9"/><circle cx="736.50" cy="252.29" r="0.9"/><circle cx="706.50" cy="258.50" r="0.9"/><circle cx="712.50" cy="258.50" r="0.9"/><circle cx="718.50" cy="258.50" r="0.9"/><circle cx="724.50" cy="258.50" r="0.9"/><circle cx="730.50" cy="258.50" r="0.9"/><circle cx="736.50" cy="258.50" r="0.9"/></g>
<g fill="#5e5e5e"><circle cx="706.50" cy="81.51" r="0.75"/><circle cx="709.50" cy="78.41" r="0.75"/><circle cx="712.50" cy="81.51" r="0.75"/><circle cx="715.50" cy="78.41" r="0.75"/><circle cx="718.50" cy="81.51" r="0.75"/><circle cx="721.50" cy="78.41" r="0.75"/><circle cx="724.50" cy="81.51" r="0.75"/><circle cx="727.50" cy="78.41" r="0.75"/><circle cx="730.50" cy="81.51" r="0.75"/><circle cx="733.50" cy="78.41" r="0.75"/><circle cx="736.50" cy="81.51" r="0.75"/><circle cx="706.50" cy="87.72" r="0.75"/><circle cx="709.50" cy="84.62" r="0.75"/><circle cx="712.50" cy="87.72" r="0.75"/><circle cx="715.50" cy="84.62" r="0.75"/><circle cx="718.50" cy="87.72" r="0.75"/><circle cx="721.50" cy="84.62" r="0.75"/><circle cx="724.50" cy="87.72" r="0.75"/><circle cx="727.50" cy="84.62" r="0.75"/><circle cx="730.50" cy="87.72" r="0.75"/><circle cx="733.50" cy="84.62" r="0.75"/><circle cx="736.50" cy="87.72" r="0.75"/><circle cx="706.50" cy="93.93" r="0.75"/><circle cx="709.50" cy="90.83" r="0.75"/><circle cx="712.50" cy="93.93" r="0.75"/><circle cx="715.50" cy="90.83" r="0.75"/><circle cx="718.50" cy="93.93" r="0.75"/><circle cx="721.50" cy="90.83" r="0.75"/><circle cx="724.50" cy="93.93" r="0.75"/><circle cx="727.50" cy="90.83" r="0.75"/><circle cx="730.50" cy="93.93" r="0.75"/><circle cx="733.50" cy="90.83" r="0.75"/><circle cx="736.50" cy="93.93" r="0.75"/><circle cx="706.50" cy="100.14" r="0.75"/><circle cx="709.50" cy="97.04" r="0.75"/><circle cx="712.50" cy="100.14" r="0.75"/><circle cx="715.50" cy="97.04" r="0.75"/><circle cx="718.50" cy="100.14" r="0.75"/><circle cx="721.50" cy="97.04" r="0.75"/><circle cx="724.50" cy="100.14" r="0.75"/><circle cx="727.50" cy="97.04" r="0.75"/><circle cx="730.50" cy="100.14" r="0.75"/><circle cx="733.50" cy="97.04" r="0.75"/><circle cx="736.50" cy="100.14" r="0.75"/><circle cx="706.50" cy="106.35" r="0.75"/><circle cx="709.50" cy="103.25" r="0.75"/><circle cx="712.50" cy="106.35" r="0.75"/><circle cx="715.50" cy="103.25" r="0.75"/><circle cx="718.50" cy="106.35" r="0.75"/><circle cx="721.50" cy="103.25" r="0.75"/><circle cx="724.50" cy="106.35" r="0.75"/><circle cx="727.50" cy="103.25" r="0.75"/><circle cx="730.50" cy="106.35" r="0.75"/><circle cx="733.50" cy="103.25" r="0.75"/><circle cx="736.50" cy="106.35" r="0.75"/><circle cx="706.50" cy="112.56" r="0.75"/><circle cx="709.50" cy="109.46" r="0.75"/><circle cx="712.50" cy="112.56" r="0.75"/><circle cx="715.50" cy="109.46" r="0.75"/><circle cx="718.50" cy="112.56" r="0.75"/><circle cx="721.50" cy="109.46" r="0.75"/><circle cx="724.50" cy="112.56" r="0.75"/><circle cx="727.50" cy="109.46" r="0.75"/><circle cx="730.50" cy="112.56" r="0.75"/><circle cx="733.50" cy="109.46" r="0.75"/><circle cx="736.50" cy="112.56" r="0.75"/><circle cx="706.50" cy="118.77" r="0.75"/><circle cx="709.50" cy="115.67" r="0.75"/><circle cx="712.50" cy="118.77" r="0.75"/><circle cx="715.50" cy="115.67" r="0.75"/><circle cx="718.50" cy="118.77" r="0.75"/><circle cx="721.50" cy="115.67" r="0.75"/><circle cx="724.50" cy="118.77" r="0.75"/><circle cx="727.50" cy="115.67" r="0.75"/><circle cx="730.50" cy="118.77" r="0.75"/><circle cx="733.50" cy="115.67" r="0.75"/><circle cx="736.50" cy="118.77" r="0.75"/><circle cx="706.50" cy="124.98" r="0.75"/><circle cx="709.50" cy="121.88" r="0.75"/><circle cx="712.50" cy="124.98" r="0.75"/><circle cx="715.50" cy="121.88" r="0.75"/><circle cx="718.50" cy="124.98" r="0.75"/><circle cx="721.50" cy="121.88" r="0.75"/><circle cx="724.50" cy="124.98" r="0.75"/><circle cx="727.50" cy="121.88" r="0.75"/><circle cx="730.50" cy="124.98" r="0.75"/><circle cx="733.50" cy="121.88" r="0.75"/><circle cx="736.50" cy="124.98" r="0.75"/><circle cx="706.50" cy="131.19" r="0.75"/><circle cx="709.50" cy="128.09" r="0.75"/><circle cx="712.50" cy="131.19" r="0.75"/><circle cx="715.50" cy="128.09" r="0.75"/><circle cx="718.50" cy="131.19" r="0.75"/><circle cx="721.50" cy="128.09" r="0.75"/><circle cx="724.50" cy="131.19" r="0.75"/><circle cx="727.50" cy="128.09" r="0.75"/><circle cx="730.50" cy="131.19" r="0.75"/><circle cx="733.50" cy="128.09" r="0.75"/><circle cx="736.50" cy="131.19" r="0.75"/><circle cx="706.50" cy="137.40" r="0.75"/><circle cx="709.50" cy="134.30" r="0.75"/><circle cx="712.50" cy="137.40" r="0.75"/><circle cx="715.50" cy="134.30" r="0.75"/><circle cx="718.50" cy="137.40" r="0.75"/><circle cx="721.50" cy="134.30" r="0.75"/><circle cx="724.50" cy="137.40" r="0.75"/><circle cx="727.50" cy="134.30" r="0.75"/><circle cx="730.50" cy="137.40" r="0.75"/><circle cx="733.50" cy="134.30" r="0.75"/><circle cx="736.50" cy="137.40" r="0.75"/><circle cx="706.50" cy="143.61" r="0.75"/><circle cx="709.50" cy="140.51" r="0.75"/><circle cx="712.50" cy="143.61" r="0.75"/><circle cx="715.50" cy="140.51" r="0.75"/><circle cx="718.50" cy="143.61" r="0.75"/><circle cx="721.50" cy="140.51" r="0.75"/><circle cx="724.50" cy="143.61" r="0.75"/><circle cx="727.50" cy="140.51" r="0.75"/><circle cx="730.50" cy="143.61" r="0.75"/><circle cx="733.50" cy="140.51" r="0.75"/><circle cx="736.50" cy="143.61" r="0.75"/><circle cx="706.50" cy="149.82" r="0.75"/><circle cx="709.50" cy="146.72" r="0.75"/><circle cx="712.50" cy="149.82" r="0.75"/><circle cx="715.50" cy="146.72" r="0.75"/><circle cx="718.50" cy="149.82" r="0.75"/><circle cx="721.50" cy="146.72" r="0.75"/><circle cx="724.50" cy="149.82" r="0.75"/><circle cx="727.50" cy="146.72" r="0.75"/><circle cx="730.50" cy="149.82" r="0.75"/><circle cx="733.50" cy="146.72" r="0.75"/><circle cx="736.50" cy="149.82" r="0.75"/><circle cx="706.50" cy="156.03" r="0.75"/><circle cx="709.50" cy="152.93" r="0.75"/><circle cx="712.50" cy="156.03" r="0.75"/><circle cx="715.50" cy="152.93" r="0.75"/><circle cx="718.50" cy="156.03" r="0.75"/><circle cx="721.50" cy="152.93" r="0.75"/><circle cx="724.50" cy="156.03" r="0.75"/><circle cx="727.50" cy="152.93" r="0.75"/><circle cx="730.50" cy="156.03" r="0.75"/><circle cx="733.50" cy="152.93" r="0.75"/><circle cx="736.50" cy="156.03" r="0.75"/><circle cx="706.50" cy="162.24" r="0.75"/><circle cx="709.50" cy="159.14" r="0.75"/><circle cx="712.50" cy="162.24" r="0.75"/><circle cx="715.50" cy="159.14" r="0.75"/><circle cx="718.50" cy="162.24" r="0.75"/><circle cx="721.50" cy="159.14" r="0.75"/><circle cx="724.50" cy="162.24" r="0.75"/><circle cx="727.50" cy="159.14" r="0.75"/><circle cx="730.50" cy="162.24" r="0.75"/><circle cx="733.50" cy="159.14" r="0.75"/><circle cx="736.50" cy="162.24" r="0.75"/><circle cx="706.50" cy="168.45" r="0.75"/><circle cx="709.50" cy="165.35" r="0.75"/><circle cx="712.50" cy="168.45" r="0.75"/><circle cx="715.50" cy="165.35" r="0.75"/><circle cx="718.50" cy="168.45" r="0.75"/><circle cx="721.50" cy="165.35" r="0.75"/><circle cx="724.50" cy="168.45" r="0.75"/><circle cx="727.50" cy="165.35" r="0.75"/><circle cx="730.50" cy="168.45" r="0.75"/><circle cx="733.50" cy="165.35" r="0.75"/><circle cx="736.50" cy="168.45" r="0.75"/><circle cx="706.50" cy="174.66" r="0.75"/><circle cx="709.50" cy="171.56" r="0.75"/><circle cx="712.50" cy="174.66" r="0.75"/><circle cx="715.50" cy="171.56" r="0.75"/><circle cx="718.50" cy="174.66" r="0.75"/><circle cx="721.50" cy="171.56" r="0.75"/><circle cx="724.50" cy="174.66" r="0.75"/><circle cx="727.50" cy="171.56" r="0.75"/><circle cx="730.50" cy="174.66" r="0.75"/><circle cx="733.50" cy="171.56" r="0.75"/><circle cx="736.50" cy="174.66" r="0.75"/><circle cx="706.50" cy="180.87" r="0.75"/><circle cx="709.50" cy="177.77" r="0.75"/><circle cx="712.50" cy="180.87" r="0.75"/><circle cx="715.50" cy="177.77" r="0.75"/><circle cx="718.50" cy="180.87" r="0.75"/><circle cx="721.50" cy="177.77" r="0.75"/><circle cx="724.50" cy="180.87" r="0.75"/><circle cx="727.50" cy="177.77" r="0.75"/><circle cx="730.50" cy="180.87" r="0.75"/><circle cx="733.50" cy="177.77" r="0.75"/><circle cx="736.50" cy="180.87" r="0.75"/><circle cx="706.50" cy="187.08" r="0.75"/><circle cx="709.50" cy="183.98" r="0.75"/><circle cx="712.50" cy="187.08" r="0.75"/><circle cx="715.50" cy="183.98" r="0.75"/><circle cx="718.50" cy="187.08" r="0.75"/><circle cx="721.50" cy="183.98" r="0.75"/><circle cx="724.50" cy="187.08" r="0.75"/><circle cx="727.50" cy="183.98" r="0.75"/><circle cx="730.50" cy="187.08" r="0.75"/><circle cx="733.50" cy="183.98" r="0.75"/><circle cx="736.50" cy="187.08" r="0.75"/><circle cx="706.50" cy="193.29" r="0.75"/><circle cx="709.50" cy="190.19" r="0.75"/><circle cx="712.50" cy="193.29" r="0.75"/><circle cx="715.50" cy="190.19" r="0.75"/><circle cx="718.50" cy="193.29" r="0.75"/><circle cx="721.50" cy="190.19" r="0.75"/><circle cx="724.50" cy="193.29" r="0.75"/><circle cx="727.50" cy="190.19" r="0.75"/><circle cx="730.50" cy="193.29" r="0.75"/><circle cx="733.50" cy="190.19" r="0.75"/><circle cx="736.50" cy="193.29" r="0.75"/><circle cx="706.50" cy="199.50" r="0.75"/><circle cx="709.50" cy="196.40" r="0.75"/><circle cx="712.50" cy="199.50" r="0.75"/><circle cx="715.50" cy="196.40" r="0.75"/><circle cx="718.50" cy="199.50" r="0.75"/><circle cx="721.50" cy="196.40" r="0.75"/><circle cx="724.50" cy="199.50" r="0.75"/><circle cx="727.50" cy="196.40" r="0.75"/><circle cx="730.50" cy="199.50" r="0.75"/><circle cx="733.50" cy="196.40" r="0.75"/><circle cx="736.50" cy="199.50" r="0.75"/><circle cx="706.50" cy="205.71" r="0.75"/><circle cx="709.50" cy="202.61" r="0.75"/><circle cx="712.50" cy="205.71" r="0.75"/><circle cx="715.50" cy="202.61" r="0.75"/><circle cx="718.50" cy="205.71" r="0.75"/><circle cx="721.50" cy="202.61" r="0.75"/><circle cx="724.50" cy="205.71" r="0.75"/><circle cx="727.50" cy="202.61" r="0.75"/><circle cx="730.50" cy="205.71" r="0.75"/><circle cx="733.50" cy="202.61" r="0.75"/><circle cx="736.50" cy="205.71" r="0.75"/><circle cx="706.50" cy="211.92" r="0.75"/><circle cx="709.50" cy="208.82" r="0.75"/><circle cx="712.50" cy="211.92" r="0.75"/><circle cx="715.50" cy="208.82" r="0.75"/><circle cx="718.50" cy="211.92" r="0.75"/><circle cx="721.50" cy="208.82" r="0.75"/><circle cx="724.50" cy="211.92" r="0.75"/><circle cx="727.50" cy="208.82" r="0.75"/><circle cx="730.50" cy="211.92" r="0.75"/><circle cx="733.50" cy="208.82" r="0.75"/><circle cx="736.50" cy="211.92" r="0.75"/><circle cx="706.50" cy="218.13" r="0.75"/><circle cx="709.50" cy="215.03" r="0.75"/><circle cx="712.50" cy="218.13" r="0.75"/><circle cx="715.50" cy="215.03" r="0.75"/><circle cx="718.50" cy="218.13" r="0.75"/><circle cx="721.50" cy="215.03" r="0.75"/><circle cx="724.50" cy="218.13" r="0.75"/><circle cx="727.50" cy="215.03" r="0.75"/><circle cx="730.50" cy="218.13" r="0.75"/><circle cx="733.50" cy="215.03" r="0.75"/><circle cx="736.50" cy="218.13" r="0.75"/><circle cx="706.50" cy="224.34" r="0.75"/><circle cx="709.50" cy="221.24" r="0.75"/><circle cx="712.50" cy="224.34" r="0.75"/><circle cx="715.50" cy="221.24" r="0.75"/><circle cx="718.50" cy="224.34" r="0.75"/><circle cx="721.50" cy="221.24" r="0.75"/><circle cx="724.50" cy="224.34" r="0.75"/><circle cx="727.50" cy="221.24" r="0.75"/><circle cx="730.50" cy="224.34" r="0.75"/><circle cx="733.50" cy="221.24" r="0.75"/><circle cx="736.50" cy="224.34" r="0.75"/><circle cx="706.50" cy="230.55" r="0.75"/><circle cx="709.50" cy="227.45" r="0.75"/><circle cx="712.50" cy="230.55" r="0.75"/><circle cx="715.50" cy="227.45" r="0.75"/><circle cx="718.50" cy="230.55" r="0.75"/><circle cx="721.50" cy="227.45" r="0.75"/><circle cx="724.50" cy="230.55" r="0.75"/><circle cx="727.50" cy="227.45" r="0.75"/><circle cx="730.50" cy="230.55" r="0.75"/><circle cx="733.50" cy="227.45" r="0.75"/><circle cx="736.50" cy="230.55" r="0.75"/><circle cx="706.50" cy="236.76" r="0.75"/><circle cx="709.50" cy="233.66" r="0.75"/><circle cx="712.50" cy="236.76" r="0.75"/><circle cx="715.50" cy="233.66" r="0.75"/><circle cx="718.50" cy="236.76" r="0.75"/><circle cx="721.50" cy="233.66" r="0.75"/><circle cx="724.50" cy="236.76" r="0.75"/><circle cx="727.50" cy="233.66" r="0.75"/><circle cx="730.50" cy="236.76" r="0.75"/><circle cx="733.50" cy="233.66" r="0.75"/><circle cx="736.50" cy="236.76" r="0.75"/><circle cx="706.50" cy="242.97" r="0.75"/><circle cx="709.50" cy="239.87" r="0.75"/><circle cx="712.50" cy="242.97" r="0.75"/><circle cx="715.50" cy="239.87" r="0.75"/><circle cx="718.50" cy="242.97" r="0.75"/><circle cx="721.50" cy="239.87" r="0.75"/><circle cx="724.50" cy="242.97" r="0.75"/><circle cx="727.50" cy="239.87" r="0.75"/><circle cx="730.50" cy="242.97" r="0.75"/><circle cx="733.50" cy="239.87" r="0.75"/><circle cx="736.50" cy="242.97" r="0.75"/><circle cx="706.50" cy="249.18" r="0.75"/><circle cx="709.50" cy="246.08" r="0.75"/><circle cx="712.50" cy="249.18" r="0.75"/><circle cx="715.50" cy="246.08" r="0.75"/><circle cx="718.50" cy="249.18" r="0.75"/><circle cx="721.50" cy="246.08" r="0.75"/><circle cx="724.50" cy="249.18" r="0.75"/><circle cx="727.50" cy="246.08" r="0.75"/><circle cx="730.50" cy="249.18" r="0.75"/><circle cx="733.50" cy="246.08" r="0.75"/><circle cx="736.50" cy="249.18" r="0.75"/><circle cx="706.50" cy="255.39" r="0.75"/><circle cx="709.50" cy="252.29" r="0.75"/><circle cx="712.50" cy="255.39" r="0.75"/><circle cx="715.50" cy="252.29" r="0.75"/><circle cx="718.50" cy="255.39" r="0.75"/><circle cx="721.50" cy="252.29" r="0.75"/><circle cx="724.50" cy="255.39" r="0.75"/><circle cx="727.50" cy="252.29" r="0.75"/><circle cx="730.50" cy="255.39" r="0.75"/><circle cx="733.50" cy="252.29" r="0.75"/><circle cx="736.50" cy="255.39" r="0.75"/><circle cx="709.50" cy="258.50" r="0.75"/><circle cx="715.50" cy="258.50" r="0.75"/><circle cx="721.50" cy="258.50" r="0.75"/><circle cx="727.50" cy="258.50" r="0.75"/><circle cx="733.50" cy="258.50" r="0.75"/></g>
<g stroke="#555" stroke-width="1" fill="none">
<path d="M492.1,212.3 H497.1 M494.6,212.3 V217.4 M492.1,217.4 H497.1"/>
<path d="M604.8,135.3 H609.8 M607.3,135.3 V141 M604.8,141 H609.8"/>
<path d="M717.8,73.6 H722.8 M720.3,73.6 V77"/>
</g>
<line x1="437" y1="260.6" x2="777" y2="260.6" stroke="#2a2a2a" stroke-width="1.2"/>
<g font-family="'Liberation Serif', serif" font-weight="bold" font-size="12.35" fill="#111" text-anchor="middle">
<text transform="translate(493.1,278.8) scale(1,1.07)">Control</text>
<text transform="translate(607.5,278.8) scale(1,1.07)">DNR</text>
<text transform="translate(720.3,278.8) scale(1,1.07)">Electric field+ DNR</text>
<text transform="translate(606.3,295.4) scale(1,1.07)">Groups</text>
</g>
</svg>
</body></html>
